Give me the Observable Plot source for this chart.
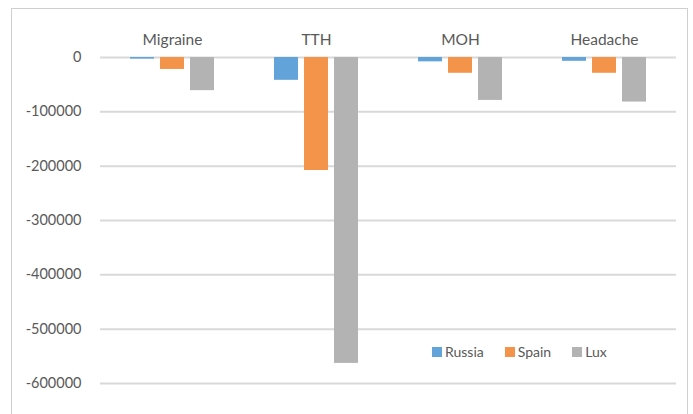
<!DOCTYPE html>
<html><head><meta charset="utf-8">
<script src="https://cdn.jsdelivr.net/npm/d3@7"></script>
<script src="https://cdn.jsdelivr.net/npm/@observablehq/plot@0.6"></script>
<style>
body{margin:0;background:#fff;font-family:Lato,"Open Sans",sans-serif;}
#wrap{position:relative;width:693px;height:414px;overflow:hidden;}
#box{position:absolute;left:11px;top:8px;width:677px;height:420px;border:1.5px solid #cfcfcf;box-sizing:border-box;}
#legend{position:absolute;left:432px;top:343px;display:flex;gap:21px;font-size:14px;color:#595959;}
#legend span.sw{display:inline-block;width:10px;height:10px;margin-right:3px;}
#legend div{display:flex;align-items:center;}
#chart{position:absolute;left:0;top:0;}
</style></head>
<body><div id="wrap"><div id="box"></div><div id="chart"></div><div id="legend"></div></div>
<script>
const categories = ["Migraine", "TTH", "MOH", "Headache"];
const series = ["Russia", "Spain", "Lux"];
const colors = ["#62a3d9", "#f4944a", "#b3b3b3"];
const russia = [-3000, -42000, -8000, -7000];
const spain = [-22000, -208000, -29000, -29000];
const lux = [-61000, -563000, -79000, -82000];
const yTicks = [0, -100000, -200000, -300000, -400000, -500000, -600000];

const vals = [russia, spain, lux];
const data = [];
categories.forEach((c, i) => series.forEach((s, j) => data.push({category: c, series: s, value: vals[j][i]})));

const chart = Plot.plot({
  width: 693, height: 414,
  marginLeft: 100, marginRight: 17, marginTop: 57, marginBottom: 31,
  style: {fontFamily: "Lato, 'Open Sans', sans-serif", fontSize: "14.5px", color: "#595959", background: "transparent"},
  fx: {domain: categories, padding: 0, axis: "top", label: null, tickSize: 0, tickPadding: 13},
  x: {domain: series, paddingInner: 0.194, paddingOuter: 0.92, axis: null},
  y: {domain: [-600000, 0], ticks: yTicks, tickFormat: d => String(d), tickSize: 0, tickPadding: 19, label: null},
  color: {domain: series, range: colors},
  marks: [
    Plot.ruleY(yTicks, {stroke: "#d9d9d9", strokeWidth: 2}),
    Plot.barY(data, {fx: "category", x: "series", y: "value", fill: "series"})
  ]
});
chart.querySelectorAll("[aria-label='fx-axis tick label'] text").forEach(t => t.setAttribute("font-size", "15.5px"));
document.getElementById("chart").appendChild(chart);

const lg = document.getElementById("legend");
series.forEach((s, i) => {
  const d = document.createElement("div");
  d.innerHTML = `<span class="sw" style="background:${colors[i]}"></span>${s}`;
  lg.appendChild(d);
});
</script></body></html>
